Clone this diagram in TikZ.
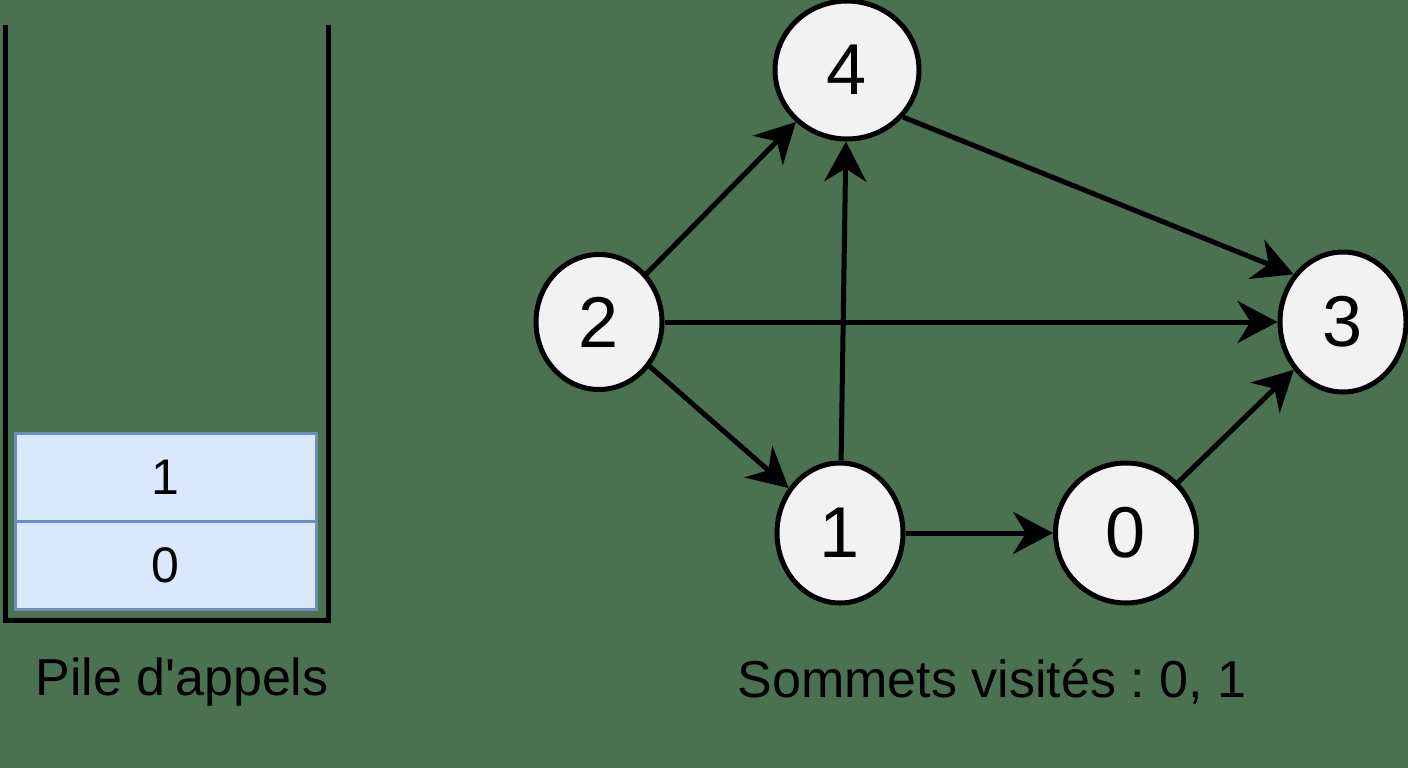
\documentclass[tikz,border=0pt]{standalone}
\usepackage{fontspec}
\setmainfont{Liberation Sans}
\frenchspacing
\usetikzlibrary{shapes.geometric,arrows.meta}
\definecolor{bg}{RGB}{74,114,80}
\definecolor{cellfill}{HTML}{DAE8FC}
\definecolor{celldraw}{HTML}{6C8EBF}
\definecolor{nodefill}{HTML}{F2F2F2}
\begin{document}
\begin{tikzpicture}[x=1pt,y=-1pt,
  vtx/.style={ellipse,draw=black,line width=5pt,fill=nodefill,inner sep=0pt,font=\fontsize{72}{72}\selectfont},
  cell/.style={draw=celldraw,line width=3pt,fill=cellfill,minimum width=301pt,minimum height=88pt,inner sep=0pt,font=\fontsize{50}{50}\selectfont},
  edge/.style={line width=5pt,-{Stealth[length=40pt,width=42pt,inset=13pt]}},
  lbl/.style={font=\fontsize{52}{52}\selectfont,inner sep=0pt}]
\fill[bg] (0,0) rectangle (1408,768);
\useasboundingbox (0,0) rectangle (1408,768);
% stack
\node[cell] (c1) at (165.5,477) {1};
\node[cell] (c0) at (165.5,565) {0};
\coordinate (tl) at (5,25);
\coordinate (bl) at (5,620);
\coordinate (br) at (328,620);
\coordinate (tr) at (328,25);
\draw[line width=5pt] (tl) -- (bl) -- (br) -- (tr);
\node[lbl] (pile) at (182,682) {Pile d\textquotesingle appels};
% graph
\node[vtx,minimum width=144pt,minimum height=138pt] (n4) at (847,70) {4};
\node[vtx,minimum width=126pt,minimum height=135pt] (n2) at (599,322) {2};
\node[vtx,minimum width=126pt,minimum height=140pt] (n3) at (1343,322) {3};
\node[vtx,minimum width=126pt,minimum height=140pt] (n1) at (840,533) {1};
\node[vtx,minimum width=141pt,minimum height=140pt] (n0) at (1126,533) {0};
\draw[edge] (n2) -- (n4);
\draw[edge] (n1) -- (n4);
\draw[edge] (n4.-40) -- (n3.136);
\draw[edge] (n2.east) -- (n3.west);
\draw[edge] (n2) -- (n1);
\draw[edge] (n1) -- (n0);
\draw[edge] (n0) -- (n3);
\node[lbl] (vis) at (992,682) {Sommets visités : 0, 1};
\end{tikzpicture}
\end{document}
